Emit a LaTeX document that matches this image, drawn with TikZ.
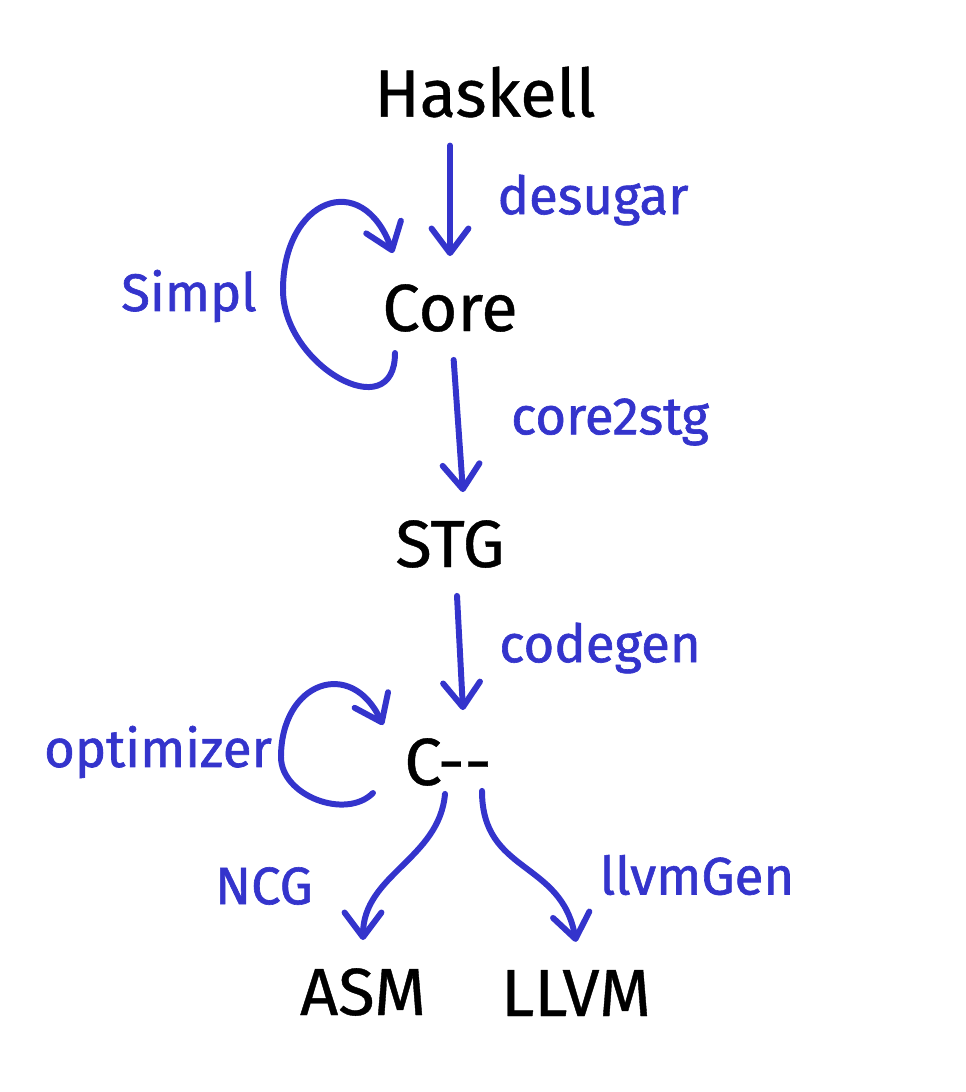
\documentclass[tikz,border=0pt]{standalone}
\usepackage{fontspec}
\setmainfont{Fira Sans}
\newfontfamily\penfont[FakeBold=1.2]{Fira Sans}
\newfontfamily\inkfont[FakeBold=0.6]{Fira Sans}
\usetikzlibrary{arrows.meta,calc}
\definecolor{penblue}{RGB}{52,52,204}
\begin{document}
\begin{tikzpicture}[x=0.02cm,y=0.02cm]
    \tikzstyle{every node}+=[inner sep=4pt, outer sep=12pt]
    \tikzstyle{stage}=[font=\inkfont\fontsize{38}{40}\selectfont]
    \tikzstyle{pass}=[font=\penfont\fontsize{30}{32}\selectfont, text=penblue, outer sep=0pt]
    \tikzstyle{flow}=[penblue, line width=3.4pt, line cap=round, line join=round, -{Straight Barb[round,length=14pt,width=21pt]}]
    \useasboundingbox (0,0) rectangle (966,-1092);
    \node [stage] (Haskell) at (485,-92) {Haskell};
    \node [stage] (Core) at (450,-308) {Core};
    \node [stage] (STG) at (450,-544) {STG};
    \node [stage] (Cmm) at (448,-762) {C-{}-};
    \node [stage] (ASM) at (363,-992) {ASM};
    \node [stage] (LLVM) at (576,-993) {LLVM};
    \node [pass] (desugar) at (593,-200) {desugar};
    \node [pass] (Simpl) at (189,-296) {Simpl};
    \node [pass] (core2stg) at (610,-422) {core2stg};
    \node [pass] (codegen) at (600,-648) {codegen};
    \node [pass] (optimizer) at (158,-752) {optimizer};
    \node [pass] (NCG) at (264,-886) {NCG};
    \node [pass] (llvmGen) at (697,-875) {llvmGen};
    \draw [flow] (Haskell.south -| Core) -- (Core);
    \draw [flow] (Core) -- ($(STG.north)+(13,0)$);
    \draw [flow] ($(STG.south)+(7,0)$) -- ($(Cmm.north)+(15,0)$);
    \draw [flow] ($(Core)+(-55,-45)$) to[out=-90,in=-90,looseness=1.5] ($(Core)+(-167,18)$) to[out=90,in=110,looseness=2] ($(Core)+(-57,55)$);
    \draw [flow] ($(Cmm)+(-75,-31)$) to[out=-135,in=-90] ($(Cmm)+(-167,5)$) to[out=90,in=115,looseness=1.8] ($(Cmm)+(-65,37)$);
    \draw [flow] ($(Cmm.south)+(-3,20)$) to[out=-95,in=90] (ASM.north);
    \draw [flow] ($(Cmm.south)+(34,23)$) to[out=-90,in=100,looseness=1.2] (LLVM.north);
\end{tikzpicture}
\end{document}
